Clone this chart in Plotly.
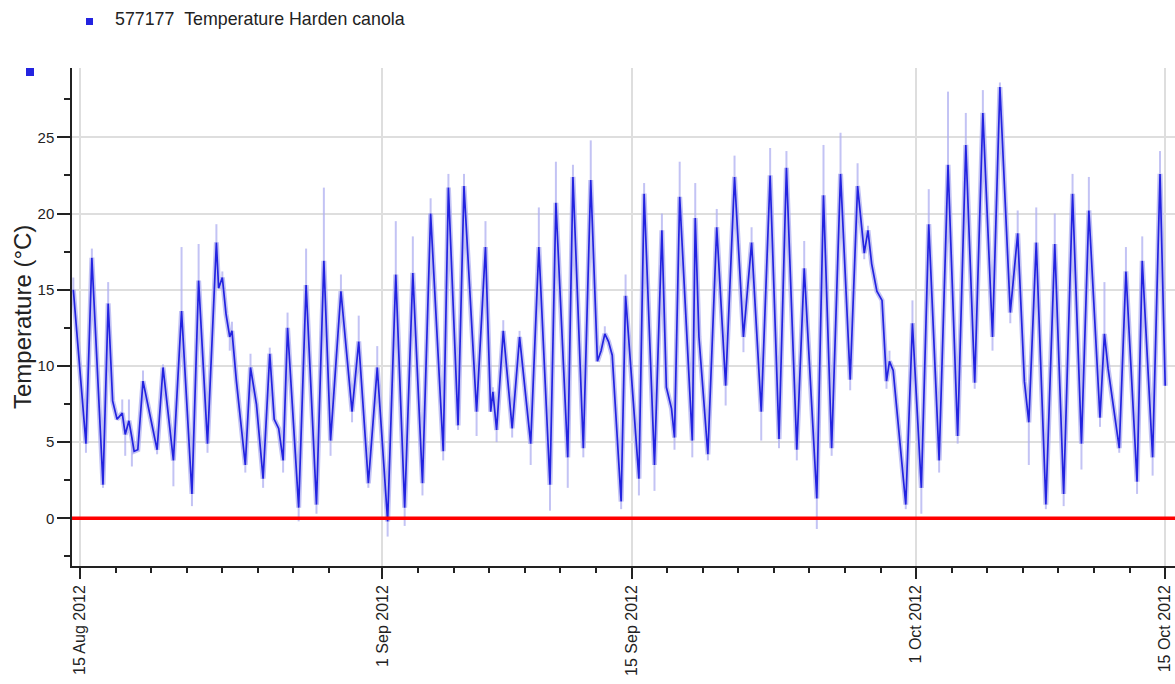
import plotly.graph_objects as go

# ---- data ----
times = [
    "2012-08-14 15:00", "2012-08-15 08:00", "2012-08-15 16:00", "2012-08-16 07:00", "2012-08-16 14:00",
    "2012-08-16 20:00", "2012-08-17 02:00", "2012-08-17 09:00", "2012-08-17 13:00", "2012-08-17 18:00",
    "2012-08-17 22:00", "2012-08-18 01:00", "2012-08-18 06:00", "2012-08-18 13:00", "2012-08-19 08:00",
    "2012-08-19 16:00", "2012-08-20 06:00", "2012-08-20 17:00", "2012-08-21 07:00", "2012-08-21 16:00",
    "2012-08-22 04:00", "2012-08-22 16:00", "2012-08-22 19:00", "2012-08-23 00:00", "2012-08-23 05:00",
    "2012-08-23 10:00", "2012-08-23 13:00", "2012-08-23 19:00", "2012-08-24 07:00", "2012-08-24 14:00",
    "2012-08-24 22:00", "2012-08-25 07:00", "2012-08-25 16:00", "2012-08-25 22:00", "2012-08-26 04:00",
    "2012-08-26 10:00", "2012-08-26 16:00", "2012-08-27 07:00", "2012-08-27 17:00", "2012-08-28 07:00",
    "2012-08-28 17:00", "2012-08-29 02:00", "2012-08-29 16:00", "2012-08-30 07:00", "2012-08-30 16:00",
    "2012-08-31 05:00", "2012-08-31 17:00", "2012-09-01 07:00", "2012-09-01 18:00", "2012-09-02 06:00",
    "2012-09-02 17:00", "2012-09-03 06:00", "2012-09-03 17:00", "2012-09-04 10:00", "2012-09-04 17:00",
    "2012-09-05 06:00", "2012-09-05 14:00", "2012-09-06 07:00", "2012-09-06 19:00", "2012-09-07 02:00",
    "2012-09-07 05:00", "2012-09-07 10:00", "2012-09-07 19:00", "2012-09-08 07:00", "2012-09-08 17:00",
    "2012-09-08 23:00", "2012-09-09 08:00", "2012-09-09 19:00", "2012-09-10 10:00", "2012-09-10 18:00",
    "2012-09-11 10:00", "2012-09-11 17:00", "2012-09-12 07:00", "2012-09-12 17:00", "2012-09-13 02:00",
    "2012-09-13 07:00", "2012-09-13 12:00", "2012-09-13 17:00", "2012-09-13 22:00", "2012-09-14 10:00",
    "2012-09-14 16:00", "2012-09-15 10:00", "2012-09-15 17:00", "2012-09-16 07:00", "2012-09-16 17:00",
    "2012-09-16 23:00", "2012-09-17 06:00", "2012-09-17 10:00", "2012-09-17 17:00", "2012-09-18 10:00",
    "2012-09-18 14:00", "2012-09-18 19:00", "2012-09-19 07:00", "2012-09-19 19:00", "2012-09-20 07:00",
    "2012-09-20 19:00", "2012-09-21 07:00", "2012-09-21 18:00", "2012-09-22 07:00", "2012-09-22 19:00",
    "2012-09-23 07:00", "2012-09-23 17:00", "2012-09-24 07:00", "2012-09-24 17:00", "2012-09-25 10:00",
    "2012-09-25 19:00", "2012-09-26 06:00", "2012-09-26 18:00", "2012-09-27 07:00", "2012-09-27 17:00",
    "2012-09-27 23:00", "2012-09-28 02:00", "2012-09-28 07:00", "2012-09-28 12:00", "2012-09-28 19:00",
    "2012-09-29 02:00", "2012-09-29 08:00", "2012-09-29 12:00", "2012-09-29 17:00", "2012-09-30 10:00",
    "2012-09-30 19:00", "2012-10-01 07:00", "2012-10-01 17:00", "2012-10-02 07:00", "2012-10-02 19:00",
    "2012-10-03 08:00", "2012-10-03 19:00", "2012-10-04 07:00", "2012-10-04 18:00", "2012-10-05 07:00",
    "2012-10-05 17:00", "2012-10-06 07:00", "2012-10-06 17:00", "2012-10-07 02:00", "2012-10-07 08:00",
    "2012-10-07 18:00", "2012-10-08 07:00", "2012-10-08 19:00", "2012-10-09 07:00", "2012-10-09 19:00",
    "2012-10-10 07:00", "2012-10-10 17:00", "2012-10-11 08:00", "2012-10-11 14:00", "2012-10-11 19:00",
    "2012-10-12 10:00", "2012-10-12 19:00", "2012-10-13 10:00", "2012-10-13 17:00", "2012-10-14 07:00",
    "2012-10-14 17:00", "2012-10-14 22:00", "2012-10-15 00:00",
]

temperature = [
    15.0, 4.9, 17.1, 2.2, 14.1, 7.7, 6.5, 6.9, 5.5, 6.4,
    5.3, 4.4, 4.5, 9.0, 4.5, 9.9, 3.8, 13.6, 1.6, 15.6,
    4.9, 18.1, 15.1, 15.8, 13.4, 11.9, 12.3, 9.0, 3.5, 9.9,
    7.5, 2.6, 10.8, 6.5, 5.9, 3.8, 12.5, 0.7, 15.3, 0.9,
    16.9, 5.1, 14.9, 7.0, 11.6, 2.3, 9.9, -0.2, 16.0, 0.7,
    16.1, 2.3, 20.0, 4.4, 21.7, 6.1, 21.8, 7.0, 17.8, 7.0,
    8.3, 5.8, 12.3, 5.9, 11.9, 9.2, 4.9, 17.8, 2.2, 20.7,
    4.0, 22.4, 4.6, 22.2, 10.3, 11.0, 12.1, 11.6, 10.7, 1.1,
    14.6, 2.6, 21.3, 3.5, 18.9, 8.6, 7.2, 5.3, 21.1, 5.1,
    19.7, 11.9, 4.2, 19.1, 8.7, 22.4, 11.9, 18.1, 7.0, 22.5,
    5.2, 23.0, 4.5, 16.4, 1.3, 21.2, 4.6, 22.6, 9.1, 21.8,
    18.9, 17.4, 18.9, 16.7, 14.9, 14.3, 9.0, 10.3, 9.7, 0.9,
    12.8, 2.0, 19.3, 3.8, 23.2, 5.4, 24.5, 8.9, 26.6, 11.9,
    28.3, 13.5, 18.7, 9.0, 6.3, 18.1, 0.9, 18.0, 1.6, 21.3,
    4.9, 20.2, 6.6, 12.1, 9.8, 4.6, 16.2, 2.4, 16.9, 4.0,
    22.6, 11.5, 8.7,
]

# extreme of the pale (short-interval) envelope reached around each point
envelope = [
    15.8, 4.3, 17.7, 2.0, 15.5, 7.7, 6.5, 7.8, 4.1, 7.8,
    3.4, 4.4, 4.5, 9.7, 4.2, 10.1, 2.1, 17.8, 0.8, 18.0,
    4.3, 19.3, 15.1, 16.2, 13.4, 11.0, 12.9, 9.0, 3.0, 10.8,
    7.5, 2.0, 11.2, 6.5, 5.9, 3.0, 13.5, -0.2, 17.7, 0.3,
    21.7, 4.1, 16.0, 6.3, 13.3, 2.0, 11.3, -1.2, 19.5, -0.5,
    18.5, 1.5, 21.0, 3.8, 22.6, 5.8, 22.6, 5.4, 19.5, 7.0,
    8.6, 5.0, 13.0, 5.3, 12.3, 9.2, 3.5, 20.4, 0.5, 23.4,
    2.0, 23.2, 4.0, 24.8, 10.3, 11.0, 12.6, 11.6, 10.7, 0.6,
    16.0, 1.5, 22.0, 1.8, 20.0, 8.6, 7.2, 4.5, 23.4, 4.0,
    22.0, 11.9, 3.8, 20.3, 7.4, 23.8, 10.9, 19.1, 5.1, 24.3,
    4.6, 24.1, 3.8, 18.2, -0.7, 24.5, 4.1, 25.3, 8.4, 23.3,
    18.9, 17.0, 19.2, 16.7, 14.9, 14.3, 8.5, 11.0, 9.7, 0.6,
    14.3, 0.3, 21.6, 3.0, 28.0, 4.9, 26.6, 8.5, 28.1, 11.0,
    28.6, 12.8, 20.2, 9.0, 3.5, 20.4, 0.6, 20.0, 0.8, 22.6,
    3.2, 22.4, 6.0, 15.5, 9.8, 4.3, 17.8, 1.6, 18.5, 2.8,
    24.1, 11.5, 8.7,
]

major_dates = ["2012-08-15", "2012-09-01", "2012-09-15", "2012-10-01", "2012-10-15"]
major_labels = ["15 Aug 2012", "1 Sep 2012", "15 Sep 2012", "1 Oct 2012", "15 Oct 2012"]
minor_dates = [
    "2012-08-17", "2012-08-19", "2012-08-21", "2012-08-23", "2012-08-25", "2012-08-27", "2012-08-29",
    "2012-09-03", "2012-09-05", "2012-09-07", "2012-09-09", "2012-09-11", "2012-09-13",
    "2012-09-17", "2012-09-19", "2012-09-21", "2012-09-23", "2012-09-25", "2012-09-27", "2012-09-29",
    "2012-10-03", "2012-10-05", "2012-10-07", "2012-10-09", "2012-10-11", "2012-10-13",
]
y_ticks = [0, 5, 10, 15, 20, 25]
series_id = "577177"
series_label = "Temperature Harden canola"
threshold = 0

# ---- styling ----
BLUE = "#2323e0"
PALE = "rgba(175,175,240,0.75)"
FONT = "Liberation Sans, Arial, sans-serif"
L, T, W, H = 72, 68, 1103, 498  # plot area in pixels


def px(xp):
    return (xp - L) / W


def py(yp):
    return (T + H - yp) / H


# vertical spikes of the pale envelope
spike_x, spike_y = [], []
for t, v, e in zip(times, temperature, envelope):
    if e != v:
        spike_x += [t, t, None]
        spike_y += [v, e, None]

fig = go.Figure()
fig.add_trace(go.Scatter(x=times, y=temperature, mode="lines",
                         line=dict(color=PALE, width=5), hoverinfo="skip", showlegend=False))
fig.add_trace(go.Scatter(x=spike_x, y=spike_y, mode="lines",
                         line=dict(color=PALE, width=2), hoverinfo="skip", showlegend=False))
fig.add_trace(go.Scatter(x=times, y=temperature, mode="lines",
                         name=series_id + " " + series_label,
                         line=dict(color=BLUE, width=1.7), showlegend=False))

fig.add_hline(y=threshold, line=dict(color="#ff0000", width=3.5), layer="above")

fig.update_layout(
    width=1175, height=684,
    margin=dict(l=L, r=1175 - L - W, t=T, b=684 - T - H, autoexpand=False),
    paper_bgcolor="white", plot_bgcolor="white",
    font=dict(family=FONT, color="#222222"),
    showlegend=False,
    xaxis=dict(
        type="date", automargin=False,
        range=["2012-08-14 13:12", "2012-10-15 13:12"],
        tickmode="array", tickvals=major_dates, ticktext=major_labels,
        tickangle=-90, tickfont=dict(size=16, family=FONT, color="#222222"),
        ticks="outside", ticklen=11, tickwidth=2, tickcolor="#222222",
        showline=True, linecolor="#222222", linewidth=1.5,
        showgrid=True, gridcolor="#dedede", gridwidth=1.5,
        zeroline=False,
        minor=dict(tickmode="array", tickvals=minor_dates, ticks="outside",
                   ticklen=5, tickwidth=1.5, tickcolor="#222222", showgrid=False),
    ),
    yaxis=dict(
        automargin=False,
        range=[-3.13, 29.55],
        tickmode="array", tickvals=y_ticks,
        tickfont=dict(size=15, family=FONT, color="#222222"),
        ticks="outside", ticklen=13, tickwidth=2, tickcolor="#222222",
        showline=True, linecolor="#222222", linewidth=1.5,
        showgrid=True, gridcolor="#dedede", gridwidth=1.5,
        zeroline=False,
        minor=dict(dtick=2.5, tick0=0, ticks="outside", ticklen=6, tickwidth=1.5,
                   tickcolor="#222222", showgrid=False),
    ),
)

# y-axis title
fig.add_annotation(text="Temperature (°C)", xref="paper", yref="paper",
                   x=px(22), y=0.5, xanchor="center", yanchor="middle",
                   textangle=-90, showarrow=False,
                   font=dict(size=24, family=FONT, color="#222222"))

# legend entry (top)
fig.add_shape(type="rect", xref="paper", yref="paper",
              x0=px(86), x1=px(93), y0=py(25), y1=py(18),
              fillcolor=BLUE, line=dict(width=0))
fig.add_annotation(text=series_id + "\u00a0\u00a0" + series_label, xref="paper", yref="paper",
                   x=px(113), y=py(19), xanchor="left", yanchor="middle",
                   showarrow=False, font=dict(size=17.8, family=FONT, color="#222222"))
# series marker above the y axis
fig.add_shape(type="rect", xref="paper", yref="paper",
              x0=px(26), x1=px(34), y0=py(76), y1=py(68),
              fillcolor=BLUE, line=dict(width=0))

fig.write_html("out.html",
               config={"displayModeBar": False},
               post_script="document.body.style.margin='0px';document.body.style.padding='0px';")
